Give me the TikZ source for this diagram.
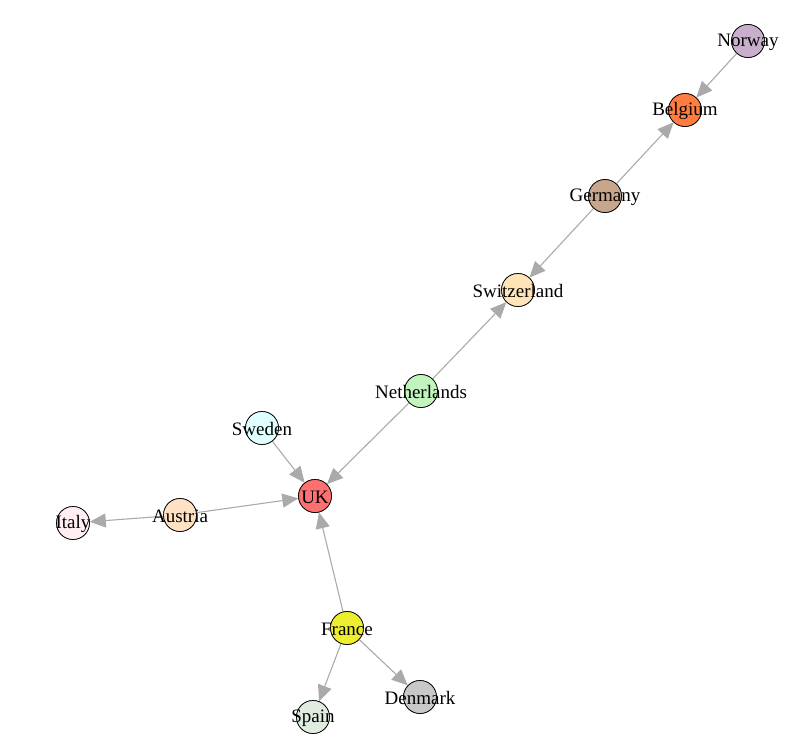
\documentclass[tikz,border=0pt]{standalone}
\usepackage{fontspec}
\setmainfont{Liberation Serif}
\usetikzlibrary{arrows.meta}
\begin{document}
\begin{tikzpicture}[x=1pt,y=-1pt,
  vtx/.style={circle,draw=black,line width=0.7pt,minimum size=33pt,inner sep=0pt},
  lbl/.style={font=\fontsize{19}{21}\selectfont,inner sep=0pt},
  edge/.style={draw={rgb,255:red,170;green,170;blue,170},line width=1.1pt,
    -{Triangle[length=16pt,width=14pt]},shorten >=0pt}]
\useasboundingbox (0,0) rectangle (796,755);
\definecolor{cNor}{RGB}{200,176,204}
\definecolor{cBel}{RGB}{255,125,64}
\definecolor{cGer}{RGB}{200,166,140}
\definecolor{cSwi}{RGB}{255,228,184}
\definecolor{cNet}{RGB}{194,244,190}
\definecolor{cSwe}{RGB}{224,255,255}
\definecolor{cUK}{RGB}{255,112,112}
\definecolor{cAus}{RGB}{255,226,196}
\definecolor{cIta}{RGB}{255,238,242}
\definecolor{cFra}{RGB}{238,238,48}
\definecolor{cSpa}{RGB}{224,236,224}
\definecolor{cDen}{RGB}{200,200,200}
% node circles (named)
\node[vtx] (Norway) at (748,41) {};
\node[vtx] (Belgium) at (685,110) {};
\node[vtx] (Germany) at (605,196) {};
\node[vtx] (Switzerland) at (518,290) {};
\node[vtx] (Netherlands) at (421,391) {};
\node[vtx] (Sweden) at (262,428) {};
\node[vtx] (UK) at (315,496) {};
\node[vtx] (Austria) at (180,515) {};
\node[vtx] (Italy) at (73,523) {};
\node[vtx] (France) at (347,628) {};
\node[vtx] (Spain) at (313,717) {};
\node[vtx] (Denmark) at (420,697) {};
% edges
\draw[edge] (Norway) -- (Belgium);
\draw[edge] (Germany) -- (Belgium);
\draw[edge] (Germany) -- (Switzerland);
\draw[edge] (Netherlands) -- (Switzerland);
\draw[edge] (Netherlands) -- (UK);
\draw[edge] (Sweden) -- (UK);
\draw[edge] (Austria) -- (UK);
\draw[edge] (Austria) -- (Italy);
\draw[edge] (France) -- (UK);
\draw[edge] (France) -- (Spain);
\draw[edge] (France) -- (Denmark);
% fills on top
\foreach \n/\c in {Norway/cNor,Belgium/cBel,Germany/cGer,Switzerland/cSwi,Netherlands/cNet,Sweden/cSwe,UK/cUK,Austria/cAus,Italy/cIta,France/cFra,Spain/cSpa,Denmark/cDen}{
  \fill[\c] (\n.center) circle (16.5pt);
  \draw[black,line width=0.7pt] (\n.center) circle (16.5pt);
  \node[lbl] (\n-t) at ([yshift=-1pt]\n.center) {\n};
}
\end{tikzpicture}
\end{document}
